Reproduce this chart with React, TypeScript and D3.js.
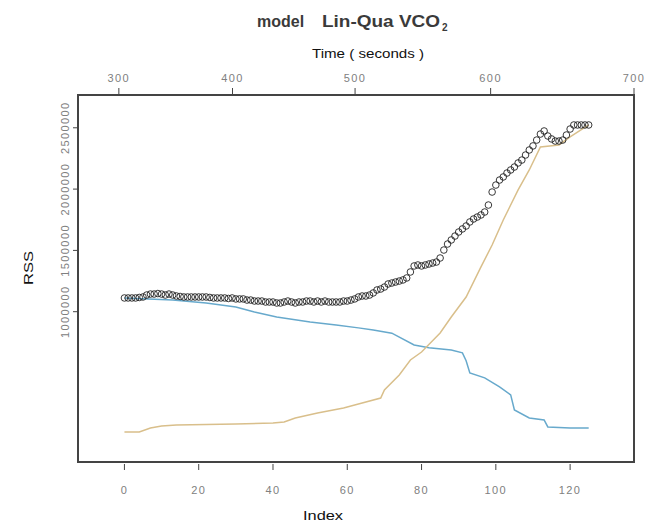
import React from 'react';
import * as d3 from 'd3';

// total RSS for each breakpoint index (open circles)
const rssTotal = [
  1112000, 1112000, 1112000, 1112000, 1116000, 1120000, 1136000, 1144000, 1144000, 1148000,
  1144000, 1136000, 1144000, 1136000, 1128000, 1124000, 1120000, 1120000, 1120000, 1120000,
  1120000, 1120000, 1120000, 1116000, 1112000, 1112000, 1112000, 1112000, 1108000, 1112000,
  1104000, 1104000, 1104000, 1095000, 1095000, 1087000, 1087000, 1087000, 1079000, 1079000,
  1079000, 1071000, 1071000, 1079000, 1087000, 1079000, 1071000, 1079000, 1079000, 1087000,
  1087000, 1079000, 1087000, 1079000, 1087000, 1079000, 1079000, 1079000, 1079000, 1087000,
  1087000, 1095000, 1104000, 1120000, 1128000, 1128000, 1136000, 1153000, 1177000, 1185000,
  1201000, 1226000, 1234000, 1242000, 1250000, 1259000, 1275000, 1324000, 1373000, 1381000,
  1373000, 1381000, 1389000, 1397000, 1405000, 1438000, 1503000, 1552000, 1585000, 1617000,
  1650000, 1675000, 1699000, 1732000, 1756000, 1772000, 1789000, 1813000, 1870000, 1976000,
  2033000, 2074000, 2099000, 2131000, 2156000, 2180000, 2213000, 2237000, 2278000, 2319000,
  2352000, 2400000, 2449000, 2474000, 2433000, 2409000, 2392000, 2392000, 2400000, 2441000,
  2490000, 2523000, 2523000, 2523000, 2523000, 2523000,
];

// RSS of the first (linear) segment: [index, rss]
const rssLinear: [number, number][] = [
  [0, 1112000], [13, 1095000], [22, 1071000], [30, 1038000], [35, 998000], [41, 957000],
  [50, 916000], [57, 892000], [63, 868000], [67, 851000], [72, 825000], [78, 729000],
  [82, 705000], [88, 688000], [91, 664000], [92, 600000], [93, 501000], [97, 460000],
  [101, 387000], [104, 321000], [105, 199000], [109, 133000], [113, 117000], [114, 60000],
  [120, 51000], [125, 51000],
];

// RSS of the second (quadratic) segment: [index, rss]
const rssQuad: [number, number][] = [
  [0, 19000], [4, 19000], [7, 51000], [10, 68000], [14, 76000], [30, 84000], [40, 92000],
  [43, 100000], [46, 133000], [52, 174000], [59, 214000], [63, 247000], [69, 296000],
  [70, 361000], [74, 484000], [77, 606000], [80, 671000], [85, 826000], [88, 957000],
  [92, 1120000], [96, 1365000], [99, 1544000], [102, 1748000], [106, 1993000],
  [109, 2156000], [112, 2343000], [117, 2360000], [120, 2425000], [125, 2523000],
];

const indexTicks = [0, 20, 40, 60, 80, 100, 120];
const rssTicks = [1000000, 1500000, 2000000, 2500000];
const timeTicks = [300, 400, 500, 600, 700];
// where each time tick falls on the index axis
const timeTickIndex = [-1.5, 29.1, 62.1, 98.6, 137.2];

const W = 646;
const H = 524;
const margin = { top: 95, right: 12, bottom: 62, left: 78 };

export default function App() {
  const x = d3.scaleLinear().domain([-12.5, 137.2]).range([margin.left, W - margin.right]);
  const y = d3.scaleLinear().domain([-226000, 2767500]).range([H - margin.bottom, margin.top]);

  const line = d3.line<[number, number]>()
    .x(d => x(d[0]))
    .y(d => y(d[1]));

  const font = 'Liberation Sans, Arial, sans-serif';
  const axisFont = { fontFamily: font, fontSize: 11, fill: '#808080', letterSpacing: 1.4 };
  const labelFont = { fontFamily: font, fontSize: 13, fill: '#111' };

  const top = margin.top;
  const bottom = H - margin.bottom;
  const left = margin.left;
  const right = W - margin.right;

  return (
    <svg width={W} height={H} style={{ position: 'absolute', left: 0, top: 0, background: '#fff' }}>
      {/* title */}
      <g style={{ fontFamily: font, fontWeight: 'bold', fill: '#3a3a3a' }}>
        <text x={257} y={27} fontSize={16}>model</text>
        <text x={322} y={27} fontSize={16} textLength={118} lengthAdjust="spacingAndGlyphs">Lin-Qua VCO</text>
        <text x={442} y={31} fontSize={10}>2</text>
      </g>
      <text x={368} y={58} textAnchor="middle" textLength={112} lengthAdjust="spacingAndGlyphs" style={labelFont}>Time ( seconds )</text>

      {/* top axis: time */}
      {timeTicks.map((t, i) => (
        <g key={t} transform={`translate(${x(timeTickIndex[i])},${top})`}>
          <line y1={0} y2={-7} stroke="#444" strokeWidth={1} />
          <text y={-13} textAnchor="middle" style={axisFont}>{t}</text>
        </g>
      ))}

      {/* bottom axis: index */}
      {indexTicks.map(t => (
        <g key={t} transform={`translate(${x(t)},${bottom})`}>
          <line y1={2} y2={8} stroke="#444" strokeWidth={1} />
          <text y={32} textAnchor="middle" style={axisFont}>{t}</text>
        </g>
      ))}
      <text x={323} y={520} textAnchor="middle" textLength={40} lengthAdjust="spacingAndGlyphs" style={labelFont}>Index</text>

      {/* left axis: RSS */}
      {rssTicks.map(t => (
        <g key={t} transform={`translate(${left},${y(t)})`}>
          <line x1={0} x2={-5} stroke="#444" strokeWidth={1} />
          <text transform="rotate(-90)" x={0} y={-9} textAnchor="middle" style={axisFont}>{t}</text>
        </g>
      ))}
      <text transform={`translate(33,268) rotate(-90)`} textAnchor="middle" textLength={34} lengthAdjust="spacingAndGlyphs" style={labelFont}>RSS</text>

      {/* segment RSS lines */}
      <path d={line(rssLinear) ?? ''} fill="none" stroke="#67a9cc" strokeWidth={1.5} />
      <path d={line(rssQuad) ?? ''} fill="none" stroke="#d9bf8b" strokeWidth={1.5} />

      {/* total RSS circles */}
      {rssTotal.map((v, i) => (
        <circle key={i} cx={x(i)} cy={y(v)} r={3.3} fill="none" stroke="#222" strokeWidth={0.9} />
      ))}

      {/* frame */}
      <rect x={left} y={top} width={right - left} height={bottom - top} fill="none" stroke="#444" strokeWidth={2} />
    </svg>
  );
}
